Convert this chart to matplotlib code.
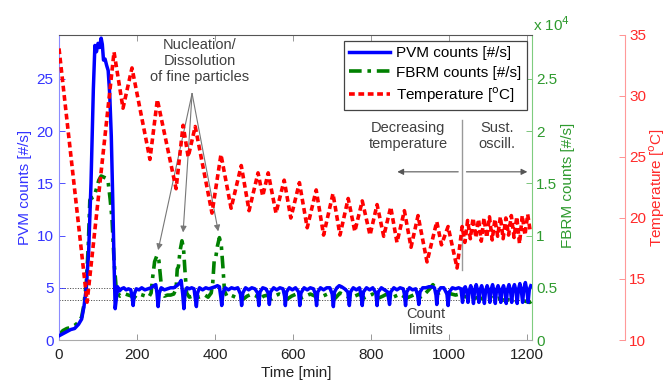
import matplotlib
matplotlib.use("Agg")
import matplotlib.pyplot as plt

plt.rcParams['font.family'] = ['Liberation Sans', 'DejaVu Sans']

# ---------------- data ----------------
temp_t = [0, 72, 141, 164, 187, 233, 252, 300, 318, 331, 349, 392, 415, 441, 467, 487, 510, 522, 536,
          556, 577, 594, 616, 636, 659, 678, 702, 720, 741, 758, 777, 797, 815, 832, 850, 866, 885,
          902, 920, 943, 968, 980, 997, 1020, 1033, 1040, 1047, 1054, 1061, 1068, 1075, 1082, 1089,
          1096, 1103, 1110, 1117, 1124, 1131, 1138, 1145, 1152, 1159, 1166, 1173, 1180, 1187, 1194,
          1201, 1208]
temp_v = [33.9, 13.1, 33.6, 29.0, 32.3, 24.8, 29.7, 22.4, 27.6, 25.0, 27.5, 20.4, 25.2, 20.8, 24.3,
          20.6, 23.7, 21.8, 23.7, 20.4, 23.1, 20.0, 22.9, 19.2, 22.3, 18.6, 22.0, 18.6, 21.6, 18.9,
          21.4, 18.6, 21.1, 18.5, 20.9, 18.0, 20.6, 17.6, 20.2, 16.4, 19.7, 17.8, 19.3, 15.9, 19.3,
          18.0, 19.8, 18.3, 20.0, 18.4, 19.9, 18.1, 20.0, 18.4, 20.1, 18.2, 19.9, 18.5, 20.1, 18.3,
          20.0, 18.6, 20.2, 18.4, 20.1, 17.9, 20.2, 18.6, 20.3, 18.8]

pvm_t = [0, 10, 20, 30, 40, 50, 58, 64, 70, 76, 82, 88, 92, 96, 100, 104, 108, 111, 114, 118, 122,
         126, 130, 134, 138, 141, 144, 147, 150, 155, 160, 166, 172, 178, 184, 188, 190, 193, 198,
         205, 212, 220, 228, 236, 243, 248, 251, 254, 257, 262, 270, 278, 286, 294, 302, 308, 313,
         317, 320, 323, 328, 334, 340, 346, 350, 352, 355, 360, 368, 376, 384, 392, 400, 406, 411,
         415, 417, 420, 426, 434, 442, 450, 458, 465, 468, 471, 478, 486, 494, 502, 509, 512, 515,
         522, 530, 536, 539, 542, 550, 558, 566, 574, 578, 580, 583, 590, 598, 606, 614, 617, 620,
         628, 636, 644, 652, 657, 660, 663, 670, 678, 686, 694, 700, 703, 706, 712, 718, 724, 732,
         740, 744, 747, 754, 762, 770, 774, 777, 780, 788, 796, 804, 812, 815, 818, 826, 834, 842,
         847, 850, 858, 866, 874, 882, 885, 888, 891, 898, 906, 914, 919, 922, 925, 932, 940, 948,
         955, 962, 966, 968, 971, 978, 986, 994, 997, 1000, 1008, 1016, 1024, 1030, 1034, 1037,
         1041, 1045, 1048, 1051, 1055, 1059, 1062, 1065, 1069, 1073, 1076, 1079, 1083, 1087, 1090,
         1093, 1097, 1101, 1104, 1107, 1111, 1115, 1118, 1121, 1125, 1129, 1132, 1135, 1139, 1143,
         1146, 1149, 1153, 1157, 1160, 1163, 1167, 1171, 1174, 1177, 1181, 1185, 1188, 1191, 1195,
         1199, 1202, 1205, 1209]
pvm_v = [0.4, 0.6, 0.8, 1.0, 1.1, 1.5, 2.0, 3.2, 5.0, 8.5, 15.0, 24.0, 28.2, 27.6, 28.4, 28.0, 28.9,
         28.3, 26.8, 26.9, 26.3, 25.8, 23.5, 19.5, 13.0, 7.5, 3.0, 4.0, 5.1, 4.7, 4.9, 5.0, 4.8, 4.9,
         4.8, 3.9, 3.3, 4.4, 4.9, 4.8, 5.0, 4.8, 4.9, 5.0, 5.2, 5.3, 4.5, 3.2, 4.5, 5.0, 4.8, 4.9,
         5.0, 5.0, 5.2, 5.4, 5.7, 4.4, 3.0, 4.6, 5.0, 4.9, 5.0, 4.9, 3.8, 3.2, 4.5, 5.0, 4.8, 5.0,
         4.9, 5.0, 5.1, 5.2, 5.1, 4.0, 3.3, 4.5, 5.0, 4.8, 5.0, 4.9, 5.0, 4.4, 3.3, 4.5, 5.0, 4.8,
         5.0, 4.9, 4.5, 3.3, 4.6, 5.0, 4.9, 4.5, 3.4, 4.6, 5.0, 4.8, 5.0, 4.9, 4.2, 3.3, 4.6, 5.0,
         4.8, 5.0, 4.6, 3.3, 4.5, 5.0, 4.8, 5.0, 4.9, 4.4, 3.3, 4.6, 5.0, 4.8, 5.0, 5.0, 4.4, 3.2,
         4.6, 5.0, 5.2, 5.1, 4.9, 4.6, 3.3, 4.6, 5.0, 4.8, 5.0, 4.3, 3.3, 4.6, 5.0, 4.8, 5.0, 4.5,
         3.3, 4.6, 5.0, 4.8, 4.6, 3.4, 4.6, 5.0, 4.8, 5.0, 4.9, 4.4, 3.3, 4.6, 5.0, 4.8, 4.9, 4.3,
         3.4, 4.6, 5.0, 5.0, 5.1, 5.1, 5.0, 4.3, 3.4, 4.6, 5.0, 5.0, 4.4, 3.3, 4.6, 5.0, 4.9, 5.0,
         4.9, 3.6, 4.9, 5.1, 4.6, 3.6, 4.7, 5.2, 4.6, 3.5, 4.8, 5.3, 4.7, 3.6, 4.8, 5.2, 4.6, 3.5,
         4.7, 5.2, 4.7, 3.6, 4.8, 5.3, 4.6, 3.5, 4.8, 5.2, 4.7, 3.6, 4.8, 5.2, 4.6, 3.5, 4.8, 5.3,
         4.7, 3.6, 4.8, 5.3, 4.7, 3.5, 4.8, 5.4, 4.6, 3.6, 4.9, 5.5, 4.7, 3.6, 4.8, 5.2]

fbrm_t = [0, 10, 20, 30, 40, 50, 58, 64, 70, 75, 79, 84, 90, 96, 102, 108, 114, 120, 126, 131, 136,
          141, 146, 150, 156, 162, 170, 178, 186, 192, 198, 206, 214, 222, 230, 236, 240, 245, 251,
          256, 260, 264, 270, 278, 286, 294, 300, 303, 306, 310, 315, 319, 323, 327, 334, 342, 350,
          358, 366, 374, 382, 390, 394, 398, 402, 406, 411, 416, 420, 424, 430, 440, 452, 464, 472,
          482, 494, 506, 514, 524, 534, 542, 552, 564, 576, 584, 596, 608, 620, 632, 644, 656, 664,
          676, 688, 700, 708, 720, 732, 746, 758, 770, 780, 792, 804, 818, 830, 840, 850, 862, 874,
          890, 902, 914, 926, 940, 950, 958, 966, 974, 984, 996, 1006, 1016, 1026, 1036, 1046, 1056,
          1066, 1076, 1086, 1096, 1106, 1116, 1126, 1136, 1146, 1156, 1166, 1176, 1186, 1196, 1206,
          1210]
fbrm_v = [500, 900, 1100, 1200, 1400, 1700, 2200, 3400, 5500, 9000, 13400, 13600, 13700, 14500,
          15300, 15700, 15600, 15500, 15100, 13500, 11500, 7600, 5200, 4600, 4200, 4300, 4400, 4300,
          4200, 4000, 4300, 4400, 4300, 4200, 4100, 4500, 6000, 7500, 8100, 7600, 6000, 4500, 4200,
          4300, 4300, 4400, 4900, 6800, 7000, 8500, 9500, 8800, 6500, 4500, 4100, 4200, 4300, 4100,
          4200, 4300, 4100, 4500, 5500, 7800, 8000, 9000, 9800, 9000, 7000, 4700, 4200, 4300, 4100,
          4300, 3900, 4200, 4400, 4200, 3900, 4200, 4300, 3900, 4200, 4400, 4200, 3900, 4200, 4400,
          4000, 4200, 4400, 4200, 3900, 4200, 4400, 4200, 4000, 4500, 4300, 4000, 4200, 4400, 4000,
          4200, 4400, 4000, 4200, 4400, 4000, 4200, 4400, 4000, 4200, 4400, 4100, 4500, 4900, 5300,
          4900, 4500, 4600, 4500, 4400, 4300, 4400, 4200, 4100, 4200, 4000, 4100, 3900, 4000, 4100,
          3900, 4000, 3800, 3900, 3800, 3900, 3700, 3800, 3700, 3600, 3700]

count_limits = [5.0, 3.85]
fbrm_ticks = [0, 5000, 10000, 15000, 20000, 25000]
fbrm_ticklabels = ['0', '0.5', '1', '1.5', '2', '2.5']
temp_ticks = [10, 15, 20, 25, 30, 35]
pvm_ticks = [0, 5, 10, 15, 20, 25]
time_ticks = [0, 200, 400, 600, 800, 1000, 1200]

# ---------------- colors ----------------
BLUE = '#0000ff'
GREEN = '#008000'
RED = '#ff0000'
BLUE_T = '#3333ff'
GREEN_T = '#2e9a2e'
RED_T = '#ff2a2a'
GRAY = '#404040'

W, H = 668, 380
fig = plt.figure(figsize=(W / 100, H / 100), dpi=100)
L, R, T, B = 59, 532, 35, 340
ax = fig.add_axes([L / W, (H - B) / H, (R - L) / W, (B - T) / H])
ax2 = ax.twinx()
ax3 = ax.twinx()

ax2.set_zorder(0)
ax.set_zorder(1)
ax3.set_zorder(2)
ax.patch.set_visible(False)
ax3.patch.set_visible(False)
ax2.patch.set_facecolor('white')

FS = 11

# PVM axis
ax.set_xlim(0, 1212)
ax.set_ylim(0, 29.2)
for yv in count_limits:
    ax.axhline(yv, color='#555555', lw=0.7, ls=(0, (1.2, 1.5)), zorder=1)
l1, = ax.plot(pvm_t, pvm_v, color=BLUE, lw=2.5, solid_joinstyle='round', zorder=3,
              label='PVM counts [#/s]')
ax.set_yticks(pvm_ticks)
ax.set_xticks(time_ticks)
ax.tick_params(axis='both', direction='in', length=4, width=0.6, labelsize=FS)
ax.tick_params(axis='y', colors=BLUE_T, labelcolor=BLUE_T, pad=4)
ax.tick_params(axis='x', top=True, colors='#888888', labelcolor='#222222', pad=6)
ax.spines['left'].set_color('#8c8cff')
ax.spines['top'].set_color('#555555')
ax.spines['bottom'].set_color('#aaaaaa')
ax.spines['right'].set_visible(False)
for s in ax.spines.values():
    s.set_linewidth(0.8)

# FBRM axis
ax2.set_ylim(0, 29200)
l2, = ax2.plot(fbrm_t, fbrm_v, color=GREEN, lw=2.6, ls=(0, (3.5, 1.6, 1.0, 1.6)),
               label='FBRM counts [#/s]')
ax2.set_yticks(fbrm_ticks)
ax2.set_yticklabels(fbrm_ticklabels)
ax2.tick_params(axis='y', direction='in', length=4, width=0.6, colors='#66bb66',
                labelcolor=GREEN_T, labelsize=FS, pad=3)
for k in ['left', 'top', 'bottom']:
    ax2.spines[k].set_visible(False)
ax2.spines['right'].set_color('#7fcc7f')
ax2.spines['right'].set_linewidth(0.8)

# Temperature axis
ax3.set_ylim(10, 35)
l3, = ax3.plot(temp_t, temp_v, color=RED, lw=2.6, ls=(0, (1.6, 1.0)),
               label='Temperature [$^{\\rm o}$C]')
ax3.spines['right'].set_position(('axes', (625 - L) / (R - L)))
ax3.set_yticks(temp_ticks)
ax3.tick_params(axis='y', direction='in', length=4, width=0.6, colors='#ff8080',
                labelcolor=RED_T, labelsize=FS, pad=3)
for k in ['left', 'top', 'bottom']:
    ax3.spines[k].set_visible(False)
ax3.spines['right'].set_color('#ff9999')
ax3.spines['right'].set_linewidth(0.8)

# axis labels
fig.text(25 / W, 1 - 187.5 / H, 'PVM counts [#/s]', rotation=90, color=BLUE_T,
         ha='center', va='center', fontsize=FS)
fig.text(568 / W, 1 - 185 / H, 'FBRM counts [#/s]', rotation=90, color=GREEN_T,
         ha='center', va='center', fontsize=FS)
fig.text(657 / W, 1 - 187.5 / H, 'Temperature [$^{\\rm o}$C]', rotation=90, color=RED_T,
         ha='center', va='center', fontsize=FS)
fig.text(296 / W, 1 - 373 / H, 'Time [min]', color='#222222', ha='center', va='center',
         fontsize=FS)
fig.text(552 / W, 1 - 25 / H, 'x 10$^4$', color=GREEN_T, ha='center', va='center',
         fontsize=FS)

# annotations (in PVM data coords)
AFS = 10.5
ax.text(361, 26.7, 'Nucleation/\nDissolution\nof fine particles', ha='center', va='center',
        color=GRAY, fontsize=AFS, zorder=6, linespacing=1.15)
apex = (341, 23.6)
for tgt in [(254, 8.6), (318, 10.3), (408, 10.4)]:
    ax.annotate('', xy=tgt, xytext=apex,
                arrowprops=dict(arrowstyle='-|>', color='#777777', lw=0.8,
                                mutation_scale=9, shrinkA=0, shrinkB=0), zorder=6)
ax.text(895, 19.5, 'Decreasing\ntemperature', ha='center', va='center', color=GRAY,
        fontsize=AFS, zorder=6, linespacing=1.15)
ax.text(1123, 19.5, 'Sust.\noscill.', ha='center', va='center', color=GRAY,
        fontsize=AFS, zorder=6, linespacing=1.15)
ax.plot([1033, 1033], [6.7, 21.1], color='#999999', lw=1.0, zorder=6)
ax.annotate('', xy=(867, 16.1), xytext=(1023, 16.1),
            arrowprops=dict(arrowstyle='-|>', color='#555555', lw=0.8, mutation_scale=9,
                            shrinkA=0, shrinkB=0), zorder=6)
ax.annotate('', xy=(1200, 16.1), xytext=(1044, 16.1),
            arrowprops=dict(arrowstyle='-|>', color='#555555', lw=0.8, mutation_scale=9,
                            shrinkA=0, shrinkB=0), zorder=6)
ax.text(941, 1.7, 'Count\nlimits', ha='center', va='center', color=GRAY, fontsize=AFS,
        zorder=6, linespacing=1.15)

leg = ax3.legend(handles=[l1, l2, l3], loc='upper right',
                 bbox_to_anchor=(527 / W, 1 - 41 / H), bbox_transform=fig.transFigure,
                 fontsize=11, frameon=True, fancybox=False, framealpha=1,
                 edgecolor='#444444', handlelength=2.7, borderaxespad=0,
                 labelspacing=0.35, handletextpad=0.4, borderpad=0.35)
leg.get_frame().set_linewidth(0.9)

fig.savefig('out.png', dpi=100)
